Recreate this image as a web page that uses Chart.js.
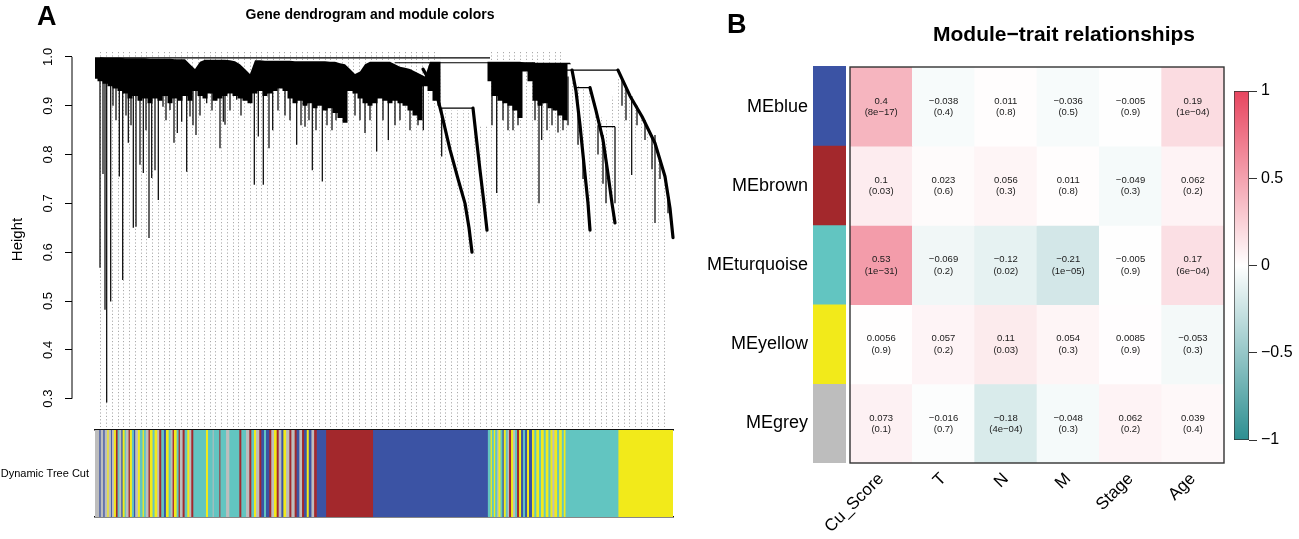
<!DOCTYPE html>
<html><head><meta charset="utf-8">
<script src="https://cdn.jsdelivr.net/npm/chart.js@4.4.0/dist/chart.umd.min.js"></script>
<style>
html,body{margin:0;padding:0;background:#fff;}
#wrap{position:relative;width:1299px;height:539px;overflow:hidden;background:#fff;}
canvas{position:absolute;}
</style></head><body>
<div id="wrap">
<canvas id="dendro" width="740" height="430" style="left:0;top:0;width:740px;height:430px"></canvas>
<canvas id="cut" width="680" height="100" style="left:0;top:425px;width:680px;height:100px"></canvas>
<canvas id="heat" width="540" height="539" style="left:690px;top:0;width:540px;height:539px"></canvas>
<canvas id="strip" width="33" height="397" style="left:813px;top:66px;width:33px;height:397px"></canvas>
<canvas id="scale" width="74" height="372" style="left:1225px;top:80px;width:74px;height:372px"></canvas>
</div>
<script>
const FONT = '"Liberation Sans", Arial, Helvetica, sans-serif';

// ---------- Panel A : dendrogram (leaf position u, merge height h) ----------
const heightTicks = [0.3, 0.4, 0.5, 0.6, 0.7, 0.8, 0.9, 1.0];
const massU    = [0,5,10,15,20,25,30,35,40,45,50,55,60,65,70,75,80,85,90,95,100,105,110,115,120,125,130,135,140,145,150,155,160,165,170,175,180,185,190,195,200,205,210,215,220,225,230,235,240,245,250,255,260,265,270,275,280,285,290,295,300,305,310,315,320,325,330,335,340,345,346,392,393,400,405,410,415,420,425,430,435,440,445,450,455,460,465,470,475,476,578];
const massTopH = [0.999,0.999,0.998,0.998,0.998,0.998,0.997,0.997,0.997,0.997,0.997,0.996,0.996,0.996,0.996,0.996,0.995,0.995,0.995,0.985,0.975,0.99,0.994,0.994,0.994,0.994,0.994,0.993,0.991,0.985,0.975,0.965,0.993,0.993,0.992,0.992,0.992,0.992,0.992,0.992,0.991,0.991,0.991,0.991,0.991,0.991,0.991,0.99,0.99,0.987,0.985,0.975,0.965,0.97,0.985,0.99,0.99,0.99,0.99,0.99,0.985,0.98,0.978,0.975,0.97,0.965,0.96,0.99,0.99,0.99,0.99,0.99,0.99,0.99,0.99,0.99,0.99,0.99,0.99,0.988,0.988,0.988,0.988,0.988,0.988,0.988,0.988,0.988,0.988,0.985,0.985];
const massLowH = [0.955,0.95,0.945,0.94,0.935,0.93,0.925,0.915,0.92,0.91,0.915,0.905,0.915,0.91,0.92,0.905,0.915,0.91,0.92,0.91,0.93,0.92,0.915,0.925,0.91,0.915,0.92,0.925,0.92,0.915,0.91,0.905,0.925,0.93,0.92,0.925,0.93,0.935,0.93,0.915,0.905,0.91,0.9,0.905,0.895,0.9,0.89,0.895,0.885,0.875,0.865,0.93,0.925,0.915,0.905,0.9,0.905,0.915,0.91,0.905,0.91,0.905,0.9,0.89,0.88,0.87,0.94,0.93,0.91,0.9,0.99,0.99,0.95,0.92,0.91,0.905,0.9,0.89,0.875,0.97,0.95,0.91,0.9,0.905,0.895,0.89,0.88,0.87,0.985,0.985,0.985];
// single branches hanging from the dense part: [u, top, bottom]
const spikes = [
 [5,0.96,0.568],[8,0.96,0.76],[10,0.96,0.482],[11.7,0.96,0.292],[15.7,0.96,0.499],[18,0.96,0.90],[21,0.96,0.87],[24.3,0.96,0.755],
 [27.7,0.96,0.543],[31,0.96,0.88],[33.3,0.96,0.824],[36,0.96,0.86],[38.3,0.96,0.65],[41,0.96,0.652],[45,0.96,0.779],[48.3,0.96,0.762],
 [51,0.96,0.85],[54,0.96,0.629],[56.7,0.96,0.752],[60,0.96,0.768],[63.3,0.96,0.707],[68,0.96,0.898],[71,0.96,0.87],[75,0.96,0.891],
 [79,0.96,0.824],[82.3,0.96,0.844],[86.7,0.96,0.867],[91.7,0.96,0.765],[95,0.96,0.878],[98,0.96,0.86],[101,0.96,0.84],[105,0.96,0.88],
 [111.7,0.96,0.905],[117,0.96,0.89],[125,0.96,0.813],[128.3,0.96,0.867],[130,0.96,0.861],[135,0.96,0.89],[141.7,0.96,0.912],[146,0.96,0.88],
 [151.7,0.96,0.912],[159.3,0.96,0.738],[163.3,0.96,0.837],[168.3,0.96,0.738],[174,0.96,0.813],[177.7,0.96,0.85],[183,0.96,0.89],[190,0.96,0.88],
 [195,0.96,0.87],[201.7,0.96,0.82],[206,0.96,0.86],[210,0.96,0.857],[214,0.96,0.87],[217.3,0.96,0.768],[221,0.96,0.85],[227.3,0.96,0.745],
 [232,0.96,0.86],[237,0.96,0.85],[241,0.96,0.87],[260,0.96,0.88],[265,0.96,0.87],[270,0.96,0.844],[275,0.96,0.87],[281.7,0.96,0.806],
 [288,0.96,0.87],[293.3,0.96,0.83],[300,0.96,0.86],[305,0.96,0.87],[315,0.96,0.85],[323,0.96,0.86],[328.3,0.96,0.85],[346.7,0.895,0.796],
 [397,0.96,0.86],[401.7,0.96,0.721],[408,0.96,0.87],[413,0.96,0.85],[418,0.96,0.85],[423,0.96,0.86],[440,0.96,0.87],[444,0.96,0.70],
 [446.7,0.96,0.83],[452,0.96,0.85],[457,0.96,0.86],[463,0.96,0.845],[468,0.96,0.85],[473,0.96,0.86],
 [483,0.90,0.82],[488,0.80,0.75],[503,0.86,0.80],[508,0.84,0.74],[511,0.80,0.70],[520,0.857,0.70],[527,0.955,0.90],[531,0.935,0.87],
 [536.7,0.92,0.758],[542,0.90,0.86],[550,0.87,0.83],[557,0.84,0.77],[560,0.84,0.66],[565,0.79,0.75],[573,0.72,0.68]
];
// horizontal merges: [u from, u to, height]
const mergeLines = [[5,395,0.998],[300,440,0.988],[346,378,0.895],[470,523,0.973],[480,495,0.937],[504,520,0.857]];
// long chained branches: [u, h]
const cascade1 = [[328,0.975],[335,0.95],[342,0.92],[347,0.88],[355,0.81],[363,0.75],[370,0.70],[374,0.65],[377,0.60]];
const cascade2 = [[378,0.895],[381,0.84],[385,0.768],[389,0.70],[392,0.645]];
const cascade3 = [[477,0.973],[481,0.93],[485,0.86],[489,0.78],[493,0.70],[495,0.645]];
const cascade4 = [[495,0.937],[501,0.89],[508,0.83],[513,0.76],[517,0.70],[520,0.66]];
const cascade5 = [[523,0.973],[535,0.92],[547,0.878],[560,0.823],[570,0.755],[575,0.69],[578,0.63]];
// height where the guide lines start (white above it)
const guideStartU = [0,345,346,378,379,392,393,470,471,495,510,523,535,547,560,570,578];
const guideStartH = [1.01,1.01,0.89,0.89,0.86,0.86,1.01,1.01,0.96,0.93,0.86,0.96,0.91,0.87,0.81,0.75,0.63];

// Dynamic Tree Cut colour runs: [module code, width in leaves]
const cutRuns = [
 ['G',4],['B',1.3],['G',2.7],['B',1.3],['G',2.7],['Y',1.3],['G',2.3],['B',1],['G',2],['Y',2],['R',1.7],['T',1.7],['G',2],['B',1.3],['Y',2],['T',1.3],
 ['G',2.7],['R',1.3],['Y',2],['T',2],['B',1.3],['G',2.7],['Y',2],['T',2.7],['Y',1.3],['T',2],['G',2.7],['R',1.3],['Y',2.7],['T',2],['Y',2.7],['G',2],
 ['R',2],['T',2.7],['B',2],['Y',2.7],['T',2],['G',2],['R',1.3],['Y',2.7],['T',2],['R',1.3],['G',2.7],['R',2],['T',2.7],['Y',2],['G',2],['R',2],
 ['T',12.7],['Y',2],['T',4.7],['G',1],['T',5.7],['R',1],['T',5.7],['G',3.3],['T',10],['R',2],['T',4.7],['G',3.3],['R',2],['T',2.7],['Y',2],['G',3.3],
 ['R',2],['B',2.7],['T',2],['B',3.3],['R',2],['G',2.7],['Y',2.7],['R',2],['G',2.7],['B',2],['Y',2.7],['G',3.3],['R',2],['G',3.3],['R',2],['B',2.7],
 ['G',2.7],['R',2],['B',2.7],['Y',2],['B',2.7],['G',2.7],['R',2.7],['B',9.3],
 ['R',47],['B',115],
 ['T',2.7],['Y',1.3],['T',2],['Y',1.3],['T',2],['G',1.3],['Y',2],['T',2],['B',1.3],['Y',2],['T',2],['G',1.3],['R',2],['Y',2],['G',2],['T',2],
 ['R',2],['Y',2],['B',2],['T',2],['B',2],['Y',2],['B',3],
 ['Y',2.3],['T',2],['Y',2.7],['T',2],['Y',2.7],['T',2],['Y',2.7],['T',2],['Y',2],['G',2],['Y',2.7],['T',2],['Y',2.7],['T',2],['Y',1.7],
 ['T',53],['Y',55]
];

// ---------- Panel B : module-trait heatmap ----------
const traits  = ['Cu_Score','T','N','M','Stage','Age'];
const modules = ['MEblue','MEbrown','MEturquoise','MEyellow','MEgrey'];
const corrMEblue      = [0.4, -0.038, 0.011, -0.036, -0.005, 0.19];
const corrMEbrown     = [0.1, 0.023, 0.056, 0.011, -0.049, 0.062];
const corrMEturquoise = [0.53, -0.069, -0.12, -0.21, -0.005, 0.17];
const corrMEyellow    = [0.0056, 0.057, 0.11, 0.054, 0.0085, -0.053];
const corrMEgrey      = [0.073, -0.016, -0.18, -0.048, 0.062, 0.039];
const pMEblue      = ['8e-17','0.4','0.8','0.5','0.9','1e-04'];
const pMEbrown     = ['0.03','0.6','0.3','0.8','0.3','0.2'];
const pMEturquoise = ['1e-31','0.2','0.02','1e-05','0.9','6e-04'];
const pMEyellow    = ['0.9','0.2','0.03','0.3','0.9','0.3'];
const pMEgrey      = ['0.1','0.7','4e-04','0.3','0.2','0.4'];
const scaleTicks = [-1, -0.5, 0, 0.5, 1];

// ---------- styles ----------
const moduleColor = {B:'#3b53a4', R:'#a3282c', T:'#62c5c1', Y:'#f2ea1a', G:'#bdbdbd'};
const moduleStripColors = [moduleColor.B, moduleColor.R, moduleColor.T, moduleColor.Y, moduleColor.G];
const corrRows = [corrMEblue, corrMEbrown, corrMEturquoise, corrMEyellow, corrMEgrey];
const pRows = [pMEblue, pMEbrown, pMEturquoise, pMEyellow, pMEgrey];
const posEnd = [232, 69, 95], negEnd = [45, 143, 145];
function corrColor(v) {
  const e = v >= 0 ? posEnd : negEnd, t = Math.min(1, Math.abs(v));
  return 'rgb(' + e.map(c => Math.round(255 + (c - 255) * t)).join(',') + ')';
}
const fmt = v => String(v).replace('-', '\u2212');
const noEdgePad = s => { s.paddingTop = 0; s.paddingBottom = 0; };

Chart.defaults.font.family = FONT;
Chart.defaults.color = '#000';
Chart.defaults.animation = false;
Chart.defaults.elements.point.radius = 0;
Chart.defaults.plugins.legend.display = false;
Chart.defaults.plugins.tooltip.enabled = false;

const toPts = (us, hs) => us.map((u, i) => ({x: u, y: hs[i]}));
const spikePts = [];
spikes.forEach(([u, t, l]) => spikePts.push({x: u, y: t}, {x: u, y: l}, {x: u, y: null}));
const mergePts = [];
mergeLines.forEach(([a, b, h]) => mergePts.push({x: a, y: h}, {x: b, y: h}, {x: b, y: null}));
const X_MIN = -23, X_MAX = 580;

const panelA = {
  id: 'panelA',
  afterDraw(chart) {
    const c = chart.ctx; c.save();
    c.fillStyle = '#000';
    c.font = 'bold 27px ' + FONT; c.textAlign = 'left'; c.textBaseline = 'alphabetic';
    c.fillText('A', 37, 25);
    c.font = 'bold 14px ' + FONT; c.textAlign = 'center'; c.textBaseline = 'middle';
    c.fillText('Gene dendrogram and module colors', 370, 15);
    c.restore();
  }
};

new Chart(document.getElementById('dendro'), {
  type: 'line',
  data: { datasets: [
    {data: toPts(massU, massTopH), fill: '+1', backgroundColor: '#000', borderWidth: 0},
    {data: toPts(massU, massLowH), fill: false, borderWidth: 0, stepped: 'middle'},
    {data: spikePts, borderColor: '#000', borderWidth: 1.2},
    {data: mergePts, borderColor: '#000', borderWidth: 1.2},
    ...[cascade1, cascade2, cascade3, cascade4, cascade5].map(cs => ({
      data: cs.map(([u, h]) => ({x: u, y: h})), borderColor: '#000', borderWidth: 3.2, borderJoinStyle: 'round', borderCapStyle: 'round'})),
    {data: [{x: X_MIN, y: heightTicks[0]}, {x: X_MIN, y: heightTicks[heightTicks.length - 1]}], borderColor: '#000', borderWidth: 1, clip: false},
    {data: toPts(guideStartU, guideStartH), fill: 'end', backgroundColor: '#fff', borderWidth: 0}
  ]},
  options: {
    responsive: false,
    layout: {padding: {left: 0, right: 65, top: 52, bottom: 3}},
    scales: {
      x: {type: 'linear', min: X_MIN, max: X_MAX,
          ticks: {display: false, stepSize: 5.75},
          afterBuildTicks: s => { s.ticks = s.ticks.filter(t => t.value >= 1 && t.value <= 577); },
          grid: {color: 'rgba(0,0,0,0.42)', lineWidth: 0.8, drawTicks: false},
          border: {display: false, dash: [1.2, 2.2]},
          afterFit: s => { s.height = 0; }},
      y: {min: 0.242, max: 1.01,
          afterBuildTicks: s => { s.ticks = heightTicks.map(v => ({value: v})); },
          ticks: {callback: v => v.toFixed(1), minRotation: 90, maxRotation: 90, crossAlign: 'center', padding: 8, font: {size: 13}, color: '#000'},
          grid: {drawOnChartArea: false, tickLength: 7, color: '#000', lineWidth: 1},
          border: {display: false},
          title: {display: true, text: 'Height', font: {size: 15}, color: '#000', padding: {top: 9, bottom: 0}},
          afterFit: s => { s.width = 72; noEdgePad(s); }}
    }
  },
  plugins: [panelA]
});

const cutTotal = cutRuns.reduce((a, r) => a + r[1], 0);
new Chart(document.getElementById('cut'), {
  type: 'bar',
  data: { labels: ['Dynamic Tree Cut'],
    datasets: cutRuns.map(([c, w]) => ({data: [w], backgroundColor: moduleColor[c], borderWidth: 0, barPercentage: 1, categoryPercentage: 1}))},
  options: {
    indexAxis: 'y', responsive: false,
    layout: {padding: {left: 0, right: 7, top: 4, bottom: 7}},
    scales: {
      x: {stacked: true, min: 0, max: cutTotal, ticks: {display: false}, grid: {display: false, drawTicks: false},
          border: {display: true, color: '#111', width: 1.6}, afterFit: s => { s.height = 1; }},
      x2: {type: 'linear', position: 'top', min: 0, max: cutTotal, display: true, ticks: {display: false},
           grid: {display: false, drawTicks: false}, border: {display: true, color: '#111', width: 1.6}, afterFit: s => { s.height = 1; }},
      y: {stacked: true, ticks: {font: {size: 11}, color: '#000', padding: 6}, grid: {display: false, drawTicks: false},
          border: {display: false}, afterFit: s => { s.width = 95; noEdgePad(s); }}
    }
  }
});

const heatText = {
  id: 'heatText',
  afterDatasetsDraw(chart) {
    const c = chart.ctx; c.save();
    c.font = '9.5px ' + FONT; c.fillStyle = '#1a1a1a'; c.textAlign = 'center'; c.textBaseline = 'middle';
    chart.data.datasets.forEach((ds, di) => {
      chart.getDatasetMeta(di).data.forEach((el, ci) => {
        const cy = (el.y + el.base) / 2;
        c.fillText(fmt(corrRows[di][ci]), el.x, cy - 5.5);
        c.fillText('(' + fmt(pRows[di][ci]) + ')', el.x, cy + 6);
      });
    });
    const a = chart.chartArea;
    c.strokeStyle = '#333'; c.lineWidth = 1.4;
    c.strokeRect(a.left, a.top, a.right - a.left, a.bottom - a.top);
    c.restore();
  },
  afterDraw(chart) {
    const c = chart.ctx; c.save();
    c.fillStyle = '#000';
    c.font = 'bold 27px ' + FONT; c.textAlign = 'left'; c.textBaseline = 'alphabetic';
    c.fillText('B', 37, 33);
    c.font = 'bold 21px ' + FONT; c.textAlign = 'center'; c.textBaseline = 'middle';
    c.fillText('Module\u2212trait relationships', 374, 35);
    c.restore();
  }
};

new Chart(document.getElementById('heat'), {
  type: 'bar',
  data: { labels: traits,
    datasets: corrRows.map((row, i) => ({label: modules[i], data: traits.map(() => [i, i + 1]),
      backgroundColor: row.map(corrColor), borderWidth: 0, barPercentage: 1, categoryPercentage: 1, grouped: false}))},
  options: {
    responsive: false,
    layout: {padding: {left: 0, right: 6, top: 67, bottom: 0}},
    scales: {
      x: {ticks: {minRotation: 45, maxRotation: 45, autoSkip: false, font: {size: 17}, color: '#000', padding: 6},
          grid: {display: false, drawTicks: false}, border: {display: false}, afterFit: s => { s.height = 76; }},
      y: {min: 0, max: 5, reverse: true,
          afterBuildTicks: s => { s.ticks = modules.map((m, i) => ({value: i + 0.5})); },
          ticks: {callback: (v, i) => modules[i], font: {size: 18}, color: '#000', padding: 42},
          grid: {display: false, drawTicks: false}, border: {display: false}, afterFit: s => { s.width = 160; noEdgePad(s); }}
    }
  },
  plugins: [heatText]
});

new Chart(document.getElementById('strip'), {
  type: 'bar',
  data: { labels: ['module'],
    datasets: modules.map((m, i) => ({label: m, data: [[i, i + 1]], backgroundColor: moduleStripColors[i], borderWidth: 0,
      barPercentage: 1, categoryPercentage: 1, grouped: false}))},
  options: { responsive: false, layout: {padding: 0},
    scales: { x: {display: false}, y: {display: false, min: 0, max: 5, reverse: true} } }
});

new Chart(document.getElementById('scale'), {
  type: 'bar',
  data: { labels: ['r'],
    datasets: [{data: [[scaleTicks[0], scaleTicks[scaleTicks.length - 1]]],
      backgroundColor: (ctx) => {
        const a = ctx.chart.chartArea; if (!a) return '#fff';
        const g = ctx.chart.ctx.createLinearGradient(0, a.top, 0, a.bottom);
        scaleTicks.slice().reverse().forEach((v, k) => g.addColorStop(k / (scaleTicks.length - 1), corrColor(v)));
        return g;
      },
      borderColor: '#333', borderWidth: 1, borderSkipped: false, barPercentage: 1, categoryPercentage: 1}]},
  options: { responsive: false,
    layout: {padding: {left: 9, right: 0, top: 11, bottom: 12}},
    scales: {
      x: {display: false},
      y: {position: 'right', min: -1, max: 1,
          afterBuildTicks: s => { s.ticks = scaleTicks.map(v => ({value: v})); },
          ticks: {callback: v => fmt(v), font: {size: 16}, color: '#000', padding: 4},
          grid: {drawOnChartArea: false, tickLength: 8, color: '#333', lineWidth: 1},
          border: {display: false}, afterFit: s => { s.width = 50; noEdgePad(s); }}
    }
  }
});
</script>
</body></html>
